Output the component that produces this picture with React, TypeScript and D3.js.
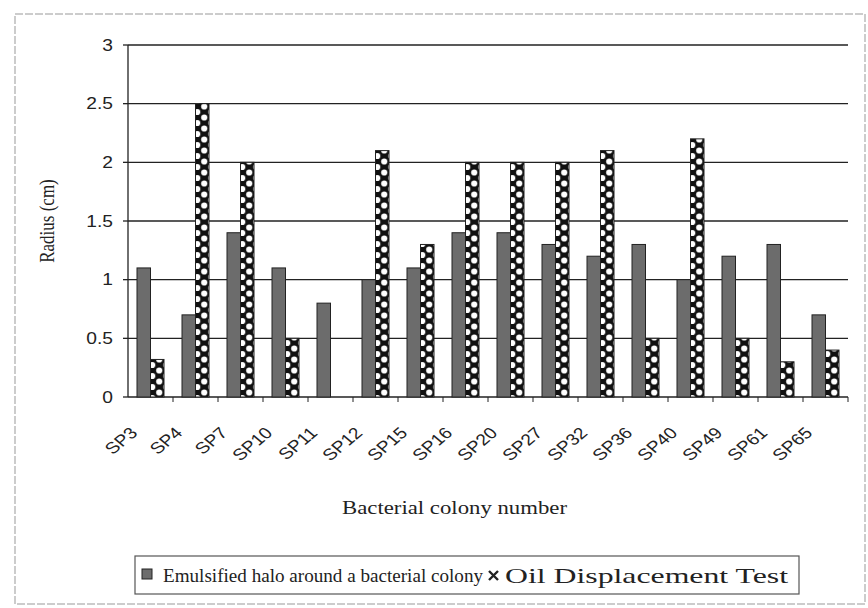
import * as d3 from "d3";
import React from "react";

const categories = ["SP3", "SP4", "SP7", "SP10", "SP11", "SP12", "SP15", "SP16", "SP20", "SP27", "SP32", "SP36", "SP40", "SP49", "SP61", "SP65"];
const emulsified = [1.1, 0.7, 1.4, 1.1, 0.8, 1.0, 1.1, 1.4, 1.4, 1.3, 1.2, 1.3, 1.0, 1.2, 1.3, 0.7];
const oilDisplacement = [0.32, 2.5, 2.0, 0.5, 0, 2.1, 1.3, 2.0, 2.0, 2.0, 2.1, 0.5, 2.2, 0.5, 0.3, 0.4];
const yTicks = [0, 0.5, 1, 1.5, 2, 2.5, 3];
const seriesNames = ["Emulsified halo around a bacterial colony", "Oil Displacement Test"];

const width = 868;
const height = 608;
const margin = { top: 45, left: 128, right: 20, bottom: 211 };
const sans = "'Liberation Sans', Arial, sans-serif";
const serif = "'Liberation Serif', 'Times New Roman', serif";

export default function App() {
  const innerW = 720;
  const innerH = height - margin.top - margin.bottom; // 352

  const x = d3.scaleBand().domain(categories).range([0, innerW]);
  const y = d3.scaleLinear().domain([0, 3]).range([innerH, 0]);
  const barW = x.bandwidth() * 0.3;

  return (
    <svg width={width} height={height} style={{ position: "absolute", left: 0, top: 0, background: "#fff" }}>
      <defs>
        {categories.map((c, i) => {
          // centre the dot column on each bar
          const cx = margin.left + x(c)! + x.bandwidth() / 2 + barW / 2;
          return (
            <pattern key={c} id={`dots-${i}`} patternUnits="userSpaceOnUse" width={14} height={11} x={cx - 7} y={margin.top + innerH}>
              <rect width={14} height={11} fill="#111" />
              <circle cx={7} cy={5.5} r={3.1} fill="#fff" />
              <circle cx={0} cy={0} r={3.1} fill="#fff" />
              <circle cx={14} cy={0} r={3.1} fill="#fff" />
              <circle cx={0} cy={11} r={3.1} fill="#fff" />
              <circle cx={14} cy={11} r={3.1} fill="#fff" />
            </pattern>
          );
        })}
      </defs>

      {/* chart frame */}
      <rect x={15} y={14} width={850} height={590} fill="none" stroke="#999" strokeWidth={1} strokeDasharray="8,2" />

      <g transform={`translate(${margin.left},${margin.top})`}>
        {yTicks.map((t) => (
          <g key={t}>
            {t > 0 && <line x1={0} x2={innerW} y1={y(t)} y2={y(t)} stroke="#222" strokeWidth={1.3} />}
            <line x1={-5} x2={0} y1={y(t)} y2={y(t)} stroke="#222" strokeWidth={1.3} />
            <text transform={`translate(-15,${y(t)}) scale(1.2,1)`} dy="0.36em" textAnchor="end" fontFamily={sans} fontSize={16} fill="#222">
              {t}
            </text>
          </g>
        ))}
        <line x1={0} x2={0} y1={0} y2={innerH} stroke="#222" strokeWidth={1.3} />
        <line x1={0} x2={innerW} y1={innerH} y2={innerH} stroke="#222" strokeWidth={1.3} />
        {categories.map((c) => (
          <line key={c} x1={x(c)! + x.bandwidth()} x2={x(c)! + x.bandwidth()} y1={innerH} y2={innerH + 5} stroke="#222" />
        ))}

        {categories.map((c, i) => {
          const cx = x(c)! + x.bandwidth() / 2;
          return (
            <g key={c}>
              <rect x={cx - barW} y={y(emulsified[i])} width={barW} height={innerH - y(emulsified[i])} fill="#6c6c6c" stroke="#222" strokeWidth={1} />
              {oilDisplacement[i] > 0 && (
                <rect x={cx} y={y(oilDisplacement[i])} width={barW} height={innerH - y(oilDisplacement[i])} fill={`url(#dots-${i})`} stroke="#222" strokeWidth={1} />
              )}
              <text transform={`translate(${cx - 12},${innerH + 37}) scale(1.2,1) rotate(-45)`} textAnchor="end" fontFamily={sans} fontSize={16} fill="#222">
                {c}
              </text>
            </g>
          );
        })}

        <text transform={`translate(-74,${innerH / 2}) scale(1.25,1) rotate(-90)`} textAnchor="middle" fontFamily={serif} fontSize={17} fill="#222">
          Radius (cm)
        </text>
        <text x={214} y={469} textLength={225} lengthAdjust="spacingAndGlyphs" fontFamily={serif} fontSize={18} fill="#222">
          Bacterial colony number
        </text>
      </g>

      {/* legend */}
      <g>
        <rect x={135} y={556} width={664} height={38} fill="#fff" stroke="#555" strokeWidth={1.2} />
        <rect x={142} y={569} width={10} height={10} fill="#6c6c6c" stroke="#222" />
        <text x={163} y={582} textLength={320} lengthAdjust="spacingAndGlyphs" fontFamily={serif} fontSize={19} fill="#222">{seriesNames[0]}</text>
        <path d="M489,571 L498,580 M498,571 L489,580" stroke="#222" strokeWidth={2.4} />
        <text x={505} y={583} textLength={283} lengthAdjust="spacingAndGlyphs" fontFamily={serif} fontSize={21} fill="#222">{seriesNames[1]}</text>
      </g>
    </svg>
  );
}
